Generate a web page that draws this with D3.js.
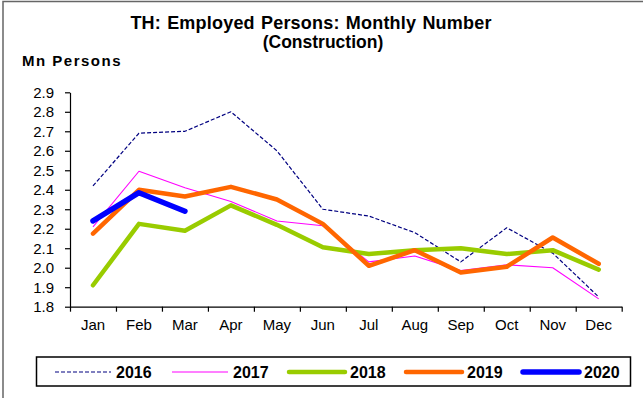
<!DOCTYPE html>
<html>
<head>
<meta charset="utf-8">
<script src="https://cdn.jsdelivr.net/npm/d3@7"></script>
<style>
  html, body { margin: 0; padding: 0; background: #fff; }
  svg { display: block; font-family: "Liberation Sans", Arial, sans-serif; }
</style>
</head>
<body>
<svg id="chart" width="643" height="398"></svg>
<script>
// Thailand: employed persons in construction, millions, by month
const months = ["Jan", "Feb", "Mar", "Apr", "May", "Jun", "Jul", "Aug", "Sep", "Oct", "Nov", "Dec"];
const years = ["2016", "2017", "2018", "2019", "2020"];
const yTicks = [1.8, 1.9, 2.0, 2.1, 2.2, 2.3, 2.4, 2.5, 2.6, 2.7, 2.8, 2.9];

const v2016 = [2.42, 2.69, 2.70, 2.80, 2.60, 2.30, 2.265, 2.18, 2.03, 2.205, 2.075, 1.85];
const v2017 = [2.21, 2.495, 2.41, 2.34, 2.24, 2.215, 2.03, 2.06, 1.985, 2.015, 2.00, 1.84];
const v2018 = [1.91, 2.225, 2.19, 2.32, 2.22, 2.105, 2.07, 2.09, 2.10, 2.07, 2.09, 1.99];
const v2019 = [2.175, 2.40, 2.365, 2.415, 2.35, 2.225, 2.01, 2.09, 1.975, 2.005, 2.155, 2.02];
const v2020 = [2.24, 2.385, 2.29];

const seriesValues = [v2016, v2017, v2018, v2019, v2020];
const seriesColors = ["#000080", "#ff00ff", "#99cc00", "#ff6600", "#0000ff"];
const seriesWidths = [1.2, 1.1, 4.5, 4.5, 5.5];
const seriesDash = ["4,2", null, null, null, null];

const svg = d3.select("#chart");

// outer frame
svg.append("rect")
  .attr("x", 3).attr("y", 1.5).attr("width", 700).attr("height", 500)
  .attr("fill", "none").attr("stroke", "#666").attr("stroke-width", 1.5);

const plot = { left: 70, right: 621.7, top: 92.3, bottom: 306.7 };

const x = d3.scaleBand().domain(months).range([plot.left, plot.right]).padding(0);
const xEdge = d3.scaleLinear().domain([0, months.length]).range([plot.left, plot.right]);
const y = d3.scaleLinear().domain([1.8, 2.9]).range([plot.bottom, plot.top]);

// titles
svg.append("text").attr("x", 311).attr("y", 29).attr("text-anchor", "middle")
  .attr("font-size", 18).attr("font-weight", "bold")
  .attr("letter-spacing", 0.2).attr("word-spacing", 1)
  .text("TH: Employed Persons: Monthly Number");
svg.append("text").attr("x", 323).attr("y", 48).attr("text-anchor", "middle")
  .attr("font-size", 17.5).attr("font-weight", "bold")
  .text("(Construction)");
svg.append("text").attr("x", 22).attr("y", 66)
  .attr("font-size", 15).attr("font-weight", "bold").attr("letter-spacing", 1.5)
  .text("Mn Persons");

// y axis
const yAxis = svg.append("g").attr("transform", `translate(${plot.left},0)`)
  .call(d3.axisLeft(y).tickValues(yTicks).tickFormat(d3.format(".1f"))
    .tickSize(5).tickSizeOuter(0).tickPadding(11));
yAxis.selectAll("text").attr("font-size", 15).attr("fill", "#000")
  .attr("font-family", "Liberation Sans, Arial, sans-serif");

// x axis: tick marks between categories, labels centred on them
const xTicksG = svg.append("g").attr("transform", `translate(0,${plot.bottom})`)
  .call(d3.axisBottom(xEdge).tickValues(d3.range(0, months.length + 1))
    .tickFormat("").tickSize(5).tickSizeOuter(0));
const xLabelsG = svg.append("g").attr("transform", `translate(0,${plot.bottom})`)
  .call(d3.axisBottom(x).tickSize(0).tickPadding(13));
xLabelsG.select(".domain").remove();
xLabelsG.selectAll("text").attr("font-size", 15).attr("fill", "#000")
  .attr("font-family", "Liberation Sans, Arial, sans-serif");

svg.selectAll(".domain, .tick line").attr("stroke", "#000").attr("stroke-width", 1.2);

// series lines
const line = d3.line()
  .x((d, i) => x(months[i]) + x.bandwidth() / 2)
  .y(d => y(d));

seriesValues.forEach((vals, k) => {
  const p = svg.append("path").datum(vals)
    .attr("d", line)
    .attr("fill", "none")
    .attr("stroke", seriesColors[k])
    .attr("stroke-width", seriesWidths[k])
    .attr("stroke-linejoin", "round")
    .attr("stroke-linecap", k >= 2 ? "round" : "butt");
  if (seriesDash[k]) p.attr("stroke-dasharray", seriesDash[k]);
});

// legend
const legend = svg.append("g");
legend.append("rect")
  .attr("x", 36.5).attr("y", 357).attr("width", 594).attr("height", 29)
  .attr("fill", "#fff").attr("stroke", "#000").attr("stroke-width", 1.5);

const legendStart = 55, legendStep = 117, lineLen = 56, legendY = 372;
years.forEach((yr, k) => {
  const lx = legendStart + k * legendStep;
  const l = legend.append("line")
    .attr("x1", lx).attr("x2", lx + lineLen)
    .attr("y1", legendY).attr("y2", legendY)
    .attr("stroke", seriesColors[k])
    .attr("stroke-width", seriesWidths[k])
    .attr("stroke-linecap", k >= 2 ? "round" : "butt");
  if (seriesDash[k]) l.attr("stroke-dasharray", seriesDash[k]);
  legend.append("text")
    .attr("x", lx + lineLen + 5).attr("y", legendY + 6)
    .attr("font-size", 16).attr("font-weight", "bold")
    .text(yr);
});
</script>
</body>
</html>
